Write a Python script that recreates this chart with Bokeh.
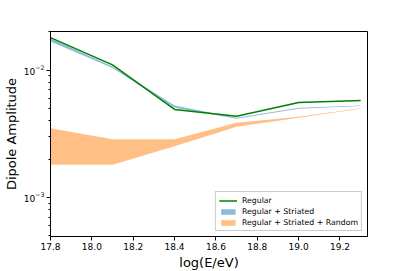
from bokeh.plotting import figure
from bokeh.models import FixedTicker, Range1d, Legend, LegendItem, PrintfTickFormatter
from bokeh.embed import file_html
from bokeh.resources import INLINE

energy = [17.8, 18.1, 18.4, 18.7, 19.0, 19.3]
regular = [0.0180, 0.0110, 0.00491, 0.00435, 0.00557, 0.00578]
striated_low = [0.0168, 0.0104, 0.00506, 0.00416, 0.00497, 0.00522]
striated_high = [0.0178, 0.0107, 0.00527, 0.00423, 0.00506, 0.00528]
random_low = [0.00181, 0.00181, 0.00253, 0.00359, 0.00422, 0.00497]
random_high = [0.00350, 0.00286, 0.00286, 0.00386, 0.00430, 0.00503]

major_ticks = [1e-3, 1e-2]
minor_ticks = [5e-4, 6e-4, 7e-4, 8e-4, 9e-4,
               2e-3, 3e-3, 4e-3, 5e-3, 6e-3, 7e-3, 8e-3, 9e-3, 2e-2]
x_ticks = [17.8, 18.0, 18.2, 18.4, 18.6, 18.8, 19.0, 19.2]

p = figure(y_axis_type="log",
           output_backend="svg", toolbar_location=None,
           x_range=Range1d(17.8, 19.333), y_range=Range1d(4.94e-4, 0.0201),
           frame_width=317, frame_height=205,
           min_border_left=42, min_border_top=31, min_border_right=32, min_border_bottom=30)
p.background_fill_color = "white"
p.border_fill_color = "white"
p.outline_line_color = "black"
p.outline_line_width = 1
p.xgrid.visible = False
p.ygrid.visible = False

b = p.varea(x=energy, y1=striated_low, y2=striated_high, fill_color="#1f77b4", fill_alpha=0.5)
o = p.varea(x=energy, y1=random_low, y2=random_high, fill_color="#ff7f0e", fill_alpha=0.5)
g = p.line(x=energy, y=regular, line_color="green", line_width=1.5)

p.xaxis.ticker = FixedTicker(ticks=x_ticks)
p.xaxis.formatter = PrintfTickFormatter(format="%.1f")
p.yaxis.ticker = FixedTicker(ticks=major_ticks, minor_ticks=minor_ticks)
for ax in (p.xaxis[0], p.yaxis[0]):
    ax.major_label_text_font = "DejaVu Sans"
    ax.major_label_text_font_size = "9px"
    ax.major_label_text_color = "black"
    ax.axis_label_text_font = "DejaVu Sans"
    ax.axis_label_text_font_size = "13px"
    ax.axis_label_text_font_style = "normal"
    ax.axis_label_text_color = "black"
    ax.major_tick_out = 4
    ax.major_tick_in = 0
    ax.minor_tick_out = 2
    ax.minor_tick_in = 0
    ax.axis_line_color = "black"
    ax.major_tick_line_color = "black"
    ax.minor_tick_line_color = "black"
    ax.major_label_standoff = 2
    ax.axis_label_standoff = 2
p.xaxis.axis_label = "log(E/eV)"
p.yaxis.axis_label = "Dipole Amplitude"

legend = Legend(items=[
    LegendItem(label="Regular", renderers=[g]),
    LegendItem(label="Regular + Striated", renderers=[b]),
    LegendItem(label="Regular + Striated + Random", renderers=[o]),
], location="bottom_right")
legend.label_text_font = "DejaVu Sans"
legend.label_text_font_size = "7.8px"
legend.label_text_color = "black"
legend.label_height = 10
legend.glyph_height = 7
legend.glyph_width = 18
legend.label_standoff = 5
legend.spacing = 1
legend.padding = 3
legend.margin = 5
legend.border_line_color = "#cccccc"
legend.border_line_alpha = 1
legend.background_fill_alpha = 0.8
p.add_layout(legend, "center")

open("out.html", "w").write(file_html(p, INLINE))
